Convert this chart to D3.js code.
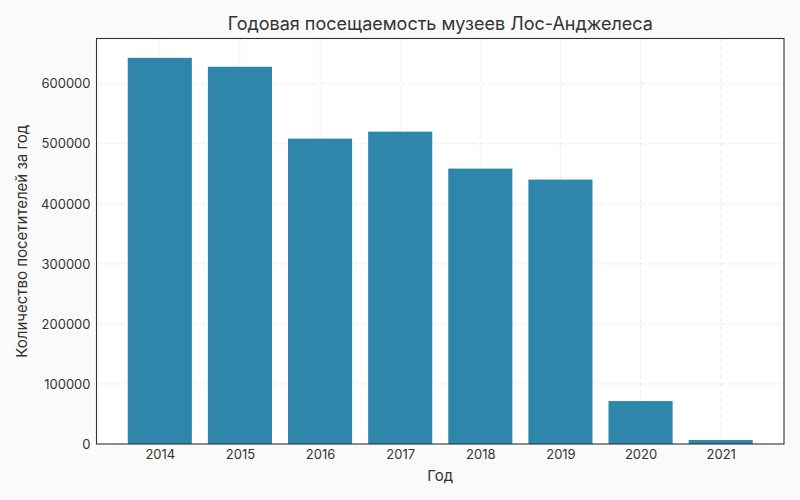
<!DOCTYPE html>
<html><head><meta charset="utf-8">
<script src="https://cdn.jsdelivr.net/npm/d3@7"></script>
<style>body{margin:0;background:#fafafa;}svg{display:block;font-family:Inter,"DejaVu Sans",sans-serif;}</style>
</head><body><svg id="c" width="800" height="500"></svg>
<script>
const years = ["2014","2015","2016","2017","2018","2019","2020","2021"];
const visitors = [643200, 628300, 508600, 520200, 458700, 440400, 71500, 6600];
const yTicks = [0,100000,200000,300000,400000,500000,600000];
const title = "Годовая посещаемость музеев Лос-Анджелеса";
const xLabel = "Год";
const yLabel = "Количество посетителей за год";

const svg = d3.select("#c");
const m = {l:96.5, t:38.5, r:784, b:444};
svg.append("rect").attr("width",800).attr("height",500).attr("fill","#fafafa");
svg.append("rect").attr("x",m.l).attr("y",m.t).attr("width",m.r-m.l).attr("height",m.b-m.t).attr("fill","#fff");

const n = years.length;
const x = d3.scaleLinear().domain([-0.79, n-1+0.79]).range([m.l, m.r]);
const y = d3.scaleLinear().domain([0, d3.max(visitors)*1.05]).range([m.b, m.t]);

const g = svg.append("g");
g.selectAll(".gy").data(yTicks).join("line")
  .attr("x1",m.l).attr("x2",m.r).attr("y1",d=>y(d)).attr("y2",d=>y(d))
  .attr("stroke","#e6e6e6").attr("stroke-dasharray","5,3").attr("stroke-width",0.8);
g.selectAll(".gx").data(years).join("line")
  .attr("y1",m.t).attr("y2",m.b).attr("x1",(d,i)=>x(i)).attr("x2",(d,i)=>x(i))
  .attr("stroke","#e6e6e6").attr("stroke-dasharray","5,3").attr("stroke-width",0.8);

g.selectAll(".bar").data(visitors).join("rect")
  .attr("x",(d,i)=>x(i-0.4)).attr("width",x(0.4)-x(-0.4))
  .attr("y",d=>y(d)).attr("height",d=>y(0)-y(d)).attr("fill","#2e86ab");

svg.append("rect").attr("x",m.l).attr("y",m.t).attr("width",m.r-m.l).attr("height",m.b-m.t)
  .attr("fill","none").attr("stroke","#333").attr("stroke-width",1.1);

const yAx = svg.append("g").attr("transform",`translate(${m.l},0)`)
  .call(d3.axisLeft(y).tickValues(yTicks).tickFormat(d3.format("d")).tickSize(0).tickPadding(6));
yAx.select(".domain").remove();
const xAx = svg.append("g").attr("transform",`translate(0,${m.b})`)
  .call(d3.axisBottom(x).tickValues(d3.range(n)).tickFormat(i=>years[i]).tickSize(0).tickPadding(6));
xAx.select(".domain").remove();
svg.selectAll(".tick text").attr("font-size",13).attr("fill","#333").attr("font-family","Inter,sans-serif");

svg.append("text").attr("x",(m.l+m.r)/2).attr("y",30).attr("text-anchor","middle")
  .attr("font-size",18).attr("fill","#333").text(title);
svg.append("text").attr("x",(m.l+m.r)/2).attr("y",481).attr("text-anchor","middle")
  .attr("font-size",15).attr("fill","#333").text(xLabel);
svg.append("text").attr("transform",`translate(27,${(m.t+m.b)/2}) rotate(-90)`).attr("text-anchor","middle")
  .attr("font-size",15).attr("fill","#333").text(yLabel);
</script></body></html>
